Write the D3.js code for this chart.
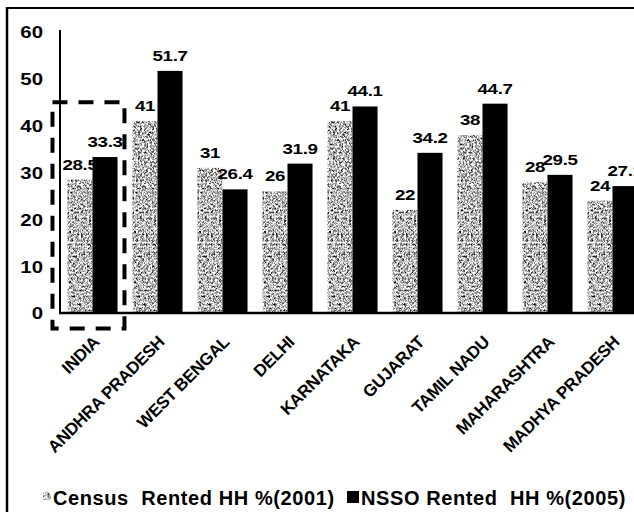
<!DOCTYPE html>
<html>
<head>
<meta charset="utf-8">
<script src="https://cdn.jsdelivr.net/npm/d3@7/dist/d3.min.js"></script>
<style>
  html, body { margin: 0; padding: 0; background: #fff; }
  svg { display: block; font-family: Arial, "Liberation Sans", sans-serif; font-weight: bold; }
</style>
</head>
<body>
<svg id="chart" width="634" height="512"></svg>
<script>
// Rented households share by state
const states = ["INDIA", "ANDHRA PRADESH", "WEST BENGAL", "DELHI", "KARNATAKA",
                "GUJARAT", "TAMIL NADU", "MAHARASHTRA", "MADHYA PRADESH"];
const census2001 = [28.5, 41, 31, 26, 41, 22, 38, 28, 24];
const nsso2005 = [33.3, 51.7, 26.4, 31.9, 44.1, 34.2, 44.7, 29.5, 27.1];
const seriesNames = ["Census  Rented HH %(2001)", "NSSO Rented  HH %(2005)"];
const yTicks = [0, 10, 20, 30, 40, 50, 60];

const svg = d3.select("#chart");
const W = 634, H = 512;
const FONT = "Arial, 'Liberation Sans', sans-serif";

// speckled texture for the census bars
const defs = svg.append("defs");
const f = defs.append("filter").attr("id", "speckle")
  .attr("x", 0).attr("y", 0).attr("width", 1).attr("height", 1)
  .attr("color-interpolation-filters", "sRGB");
f.append("feTurbulence").attr("type", "fractalNoise").attr("baseFrequency", 0.5)
  .attr("numOctaves", 2).attr("seed", 7).attr("result", "noise");
f.append("feColorMatrix").attr("in", "noise").attr("type", "matrix")
  .attr("values", "0.33 0.33 0.33 0 0  0.33 0.33 0.33 0 0  0.33 0.33 0.33 0 0  0 0 0 0 1")
  .attr("result", "gray");
const ct = f.append("feComponentTransfer").attr("in", "gray").attr("result", "contrast");
["feFuncR", "feFuncG", "feFuncB"].forEach(n =>
  ct.append(n).attr("type", "linear").attr("slope", 4).attr("intercept", -1.25));
f.append("feComposite").attr("in", "contrast").attr("in2", "SourceGraphic").attr("operator", "in");

// frame
svg.append("line").attr("x1", 7).attr("x2", W).attr("y1", 8).attr("y2", 8)
  .attr("stroke", "#000").attr("stroke-width", 2);
svg.append("line").attr("x1", 7).attr("x2", 7).attr("y1", 7).attr("y2", H)
  .attr("stroke", "#000").attr("stroke-width", 2.5);

// scales
const x = d3.scaleBand().domain(states).range([60, 645])
  .paddingInner(0.23).paddingOuter(0.115);
const xs = d3.scaleBand().domain([0, 1]).range([0, x.bandwidth()]);
const y = d3.scaleLinear().domain([0, 60]).range([313, 32]);

// bars
const groups = svg.append("g").selectAll("g").data(states).join("g")
  .attr("transform", d => `translate(${x(d)},0)`);

groups.append("rect")
  .attr("x", xs(0)).attr("width", xs.bandwidth())
  .attr("y", (d, i) => y(census2001[i]))
  .attr("height", (d, i) => y(0) - y(census2001[i]))
  .attr("fill", "#999").attr("filter", "url(#speckle)");

groups.append("rect")
  .attr("x", xs(1)).attr("width", xs.bandwidth())
  .attr("y", (d, i) => y(nsso2005[i]))
  .attr("height", (d, i) => y(0) - y(nsso2005[i]))
  .attr("fill", "#000");

// value labels (slightly widened type)
function valueLabel(series, k) {
  groups.append("text")
    .attr("transform", (d, i) =>
      `translate(${xs(k) + xs.bandwidth() / 2},${y(series[i]) - 10}) scale(1.25,1)`)
    .attr("text-anchor", "middle").attr("font-size", 15).attr("letter-spacing", -0.3)
    .text((d, i) => series[i]);
}
valueLabel(census2001, 0);
valueLabel(nsso2005, 1);

// y axis
const yAxis = svg.append("g").attr("transform", "translate(60,0)")
  .call(d3.axisLeft(y).tickValues(yTicks).tickSize(0).tickPadding(17).tickFormat(d3.format("d")));
yAxis.select(".domain").remove();
yAxis.selectAll(".tick text")
  .attr("font-size", 17).attr("font-weight", "bold").attr("font-family", FONT).attr("fill", "#000")
  .attr("x", 0).attr("dy", "0.35em").attr("text-anchor", "end")
  .attr("transform", "translate(-17,0) scale(1.2,1)");
svg.append("line").attr("x1", 60).attr("x2", 60).attr("y1", 30).attr("y2", y(0))
  .attr("stroke", "#000").attr("stroke-width", 2);

// x axis
svg.append("line").attr("x1", 59).attr("x2", W).attr("y1", y(0)).attr("y2", y(0))
  .attr("stroke", "#000").attr("stroke-width", 2.5);
const xAxis = svg.append("g").attr("transform", `translate(0,${y(0)})`)
  .call(d3.axisBottom(x).tickSize(0).tickPadding(0));
xAxis.select(".domain").remove();
xAxis.selectAll("text")
  .attr("font-size", 17).attr("font-weight", "bold").attr("font-family", FONT).attr("fill", "#000")
  .attr("text-anchor", "end").attr("dy", null).attr("y", 0).attr("x", 0)
  .attr("letter-spacing", -0.3)
  .attr("transform", "translate(8,30) rotate(-45)");

// dashed outline around the national figures
const india = x("INDIA");
svg.append("rect")
  .attr("x", india - 15).attr("y", y(45))
  .attr("width", x.step() + 7).attr("height", y(-3.3) - y(45))
  .attr("fill", "none").attr("stroke", "#000").attr("stroke-width", 4)
  .attr("stroke-dasharray", "15 11");

// legend
const lg = svg.append("g").attr("font-size", 20).attr("letter-spacing", 0.6);
lg.append("rect").attr("x", 43).attr("y", 492).attr("width", 8).attr("height", 8)
  .attr("fill", "#999").attr("filter", "url(#speckle)");
lg.append("text").attr("x", 53).attr("y", 505).attr("xml:space", "preserve")
  .style("white-space", "pre").text(seriesNames[0]);
lg.append("rect").attr("x", 347).attr("y", 491).attr("width", 12).attr("height", 12)
  .attr("fill", "#000");
lg.append("text").attr("x", 361).attr("y", 505).attr("xml:space", "preserve")
  .style("white-space", "pre").text(seriesNames[1]);
</script>
</body>
</html>
